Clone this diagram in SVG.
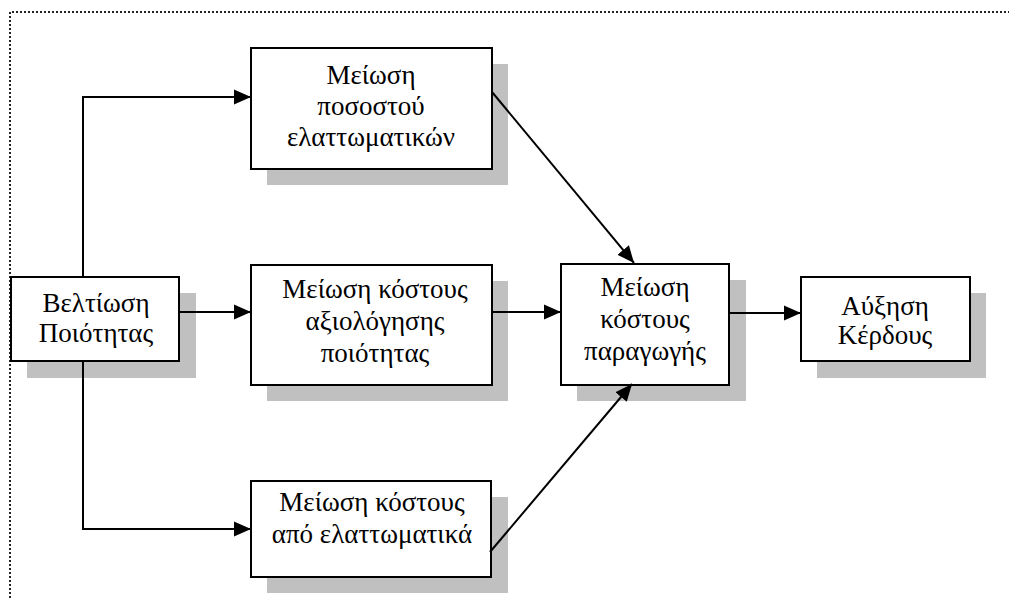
<svg xmlns="http://www.w3.org/2000/svg" width="1009" height="598" viewBox="0 0 1009 598">
  <defs>
    <marker id="arrow" markerUnits="userSpaceOnUse" markerWidth="18" markerHeight="16" refX="17" refY="8" orient="auto" viewBox="0 0 18 16">
      <path d="M0,0.5 L17,8 L0,15.5 z" fill="#000"/>
    </marker>
  </defs>
  <style>
    .shadow { fill: #c0c0c0; }
    .box { fill: #fff; stroke: #000; stroke-width: 2; }
    .label { font-family: 'Liberation Serif', 'Times New Roman', serif; font-size: 27px; fill: #000; text-anchor: middle; }
    .conn { fill: none; stroke: #000; stroke-width: 2; }
    .frame { fill: none; stroke: #222; stroke-width: 2; stroke-dasharray: 2 2; }
  </style>
  <rect width="1009" height="598" fill="#fff"/>

  <!-- dotted frame around the figure -->
  <path class="frame" d="M10,598 L10,12 L1009,12"/>

  <!-- each node: grey drop shadow, white box, centred lines of text -->
  <g id="node-quality">
    <rect class="shadow" x="27" y="293" width="169" height="85"/>
    <rect class="box" x="11" y="277" width="168" height="84"/>
    <text class="label" x="96" y="312">Βελτίωση</text>
    <text class="label" x="96" y="342">Ποιότητας</text>
  </g>

  <g id="node-defect-rate">
    <rect class="shadow" x="267" y="64" width="241" height="121"/>
    <rect class="box" x="251" y="48" width="241" height="121"/>
    <text class="label" x="371" y="84">Μείωση</text>
    <text class="label" x="371" y="115">ποσοστού</text>
    <text class="label" x="371" y="146">ελαττωματικών</text>
  </g>

  <g id="node-appraisal-cost">
    <rect class="shadow" x="267" y="281" width="241" height="120"/>
    <rect class="box" x="251" y="265" width="241" height="120"/>
    <text class="label" x="375" y="298">Μείωση κόστους</text>
    <text class="label" x="375" y="330">αξιολόγησης</text>
    <text class="label" x="375" y="362">ποιότητας</text>
  </g>

  <g id="node-defect-cost">
    <rect class="shadow" x="267" y="497" width="241" height="96"/>
    <rect class="box" x="251" y="481" width="240" height="96"/>
    <text class="label" x="372" y="511">Μείωση κόστους</text>
    <text class="label" x="372" y="543">από ελαττωματικά</text>
  </g>

  <g id="node-production-cost">
    <rect class="shadow" x="577" y="280" width="169" height="121"/>
    <rect class="box" x="561" y="264" width="168" height="121"/>
    <text class="label" x="645" y="296">Μείωση</text>
    <text class="label" x="645" y="328">κόστους</text>
    <text class="label" x="645" y="360">παραγωγής</text>
  </g>

  <g id="node-profit">
    <rect class="shadow" x="817" y="293" width="169" height="85"/>
    <rect class="box" x="801" y="277" width="169" height="84"/>
    <text class="label" x="885" y="315">Αύξηση</text>
    <text class="label" x="885" y="344">Κέρδους</text>
  </g>

  <g id="connectors">
    <path class="conn" marker-end="url(#arrow)" d="M83,277 L83,97 L251,97"/>
    <path class="conn" marker-end="url(#arrow)" d="M83,361 L83,529 L251,529"/>
    <path class="conn" marker-end="url(#arrow)" d="M179,312 L251,312"/>
    <path class="conn" marker-end="url(#arrow)" d="M492,312 L561,312"/>
    <path class="conn" marker-end="url(#arrow)" d="M492,92 L634,263"/>
    <path class="conn" marker-end="url(#arrow)" d="M490,552 L632,384"/>
    <path class="conn" marker-end="url(#arrow)" d="M729,313 L801,313"/>
  </g>
</svg>
